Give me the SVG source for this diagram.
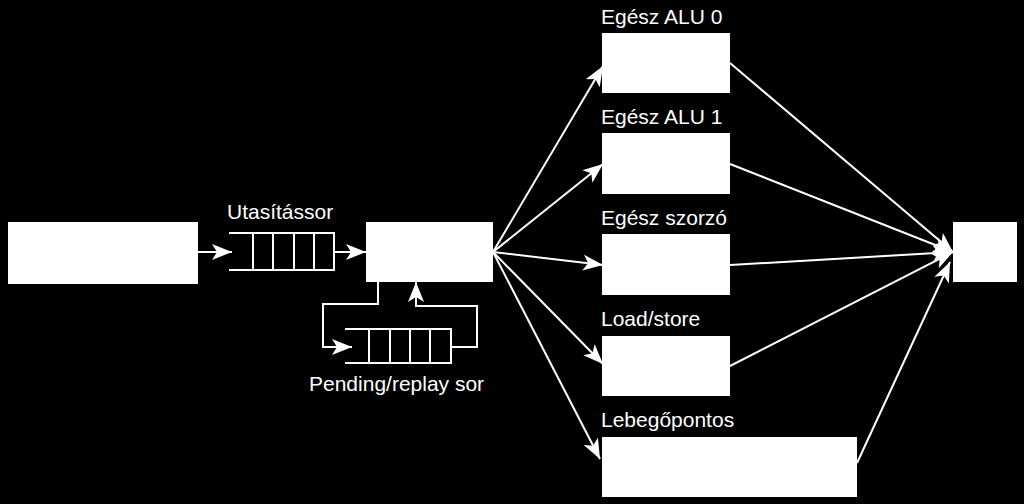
<svg xmlns="http://www.w3.org/2000/svg" width="1024" height="504" viewBox="0 0 1024 504">
<defs>
<marker id="ah" markerUnits="userSpaceOnUse" markerWidth="20" markerHeight="16" refX="20" refY="8" orient="auto" viewBox="0 0 20 16">
<path d="M0,0 L20,8 L0,16 L5,8 z" fill="#fff"/>
</marker>
<style>
.box{fill:#fff;stroke:none}
.ln{fill:none;stroke:#fff;stroke-width:2}
.arr{fill:none;stroke:#fff;stroke-width:2;marker-end:url(#ah)}
.lbl{font-family:"Liberation Sans",Arial,sans-serif;font-size:21px;fill:#fff}
</style>
</defs>
<rect width="1024" height="504" fill="#000"/>
<g id="source"><rect class="box" x="8" y="222" width="190" height="62"/></g>
<g id="queue1">
<text class="lbl" x="227" y="219">Utasítássor</text>
<path class="ln" d="M229,233 H334 V270 H229 M253,233 V270 M273,233 V270 M294,233 V270 M314,233 V270"/>
</g>
<g id="scheduler"><rect class="box" x="366" y="222" width="127" height="60"/></g>
<g id="queue2">
<path class="ln" d="M345,329 H451 V363 H345 M369,329 V363 M390,329 V363 M410,329 V363 M430,329 V363"/>
<text class="lbl" x="309" y="391">Pending/replay sor</text>
</g>
<g id="alu0"><text class="lbl" x="601" y="24">Egész ALU 0</text><rect class="box" x="602" y="33" width="128" height="60"/></g>
<g id="alu1"><text class="lbl" x="601" y="124">Egész ALU 1</text><rect class="box" x="602" y="133" width="128" height="61"/></g>
<g id="mul"><text class="lbl" x="601" y="225">Egész szorzó</text><rect class="box" x="602" y="234" width="128" height="61"/></g>
<g id="ls"><text class="lbl" x="601" y="326">Load/store</text><rect class="box" x="602" y="336" width="128" height="60"/></g>
<g id="fp"><text class="lbl" x="601" y="427">Lebegőpontos</text><rect class="box" x="602" y="437" width="255" height="60"/></g>
<g id="sink"><rect class="box" x="953" y="222" width="64" height="60"/></g>
<g id="connectors">
<path class="arr" d="M198,252 H232"/>
<path class="arr" d="M334,252 H366"/>
<path class="arr" d="M378,282 V304 H323 V347 H352"/>
<path class="arr" d="M451,347 H477 V306 H416 V282"/>
<path class="arr" d="M493,252 L603,66"/>
<path class="arr" d="M493,252 L603,164"/>
<path class="arr" d="M493,252 L603,265"/>
<path class="arr" d="M493,252 L603,364"/>
<path class="arr" d="M493,252 L600,459"/>
<path class="arr" d="M730,63 L953,252"/>
<path class="arr" d="M730,164 L953,252"/>
<path class="arr" d="M730,265 L953,252"/>
<path class="arr" d="M730,366 L953,252"/>
<path class="arr" d="M857,463 L950,262"/>
</g>
</svg>
